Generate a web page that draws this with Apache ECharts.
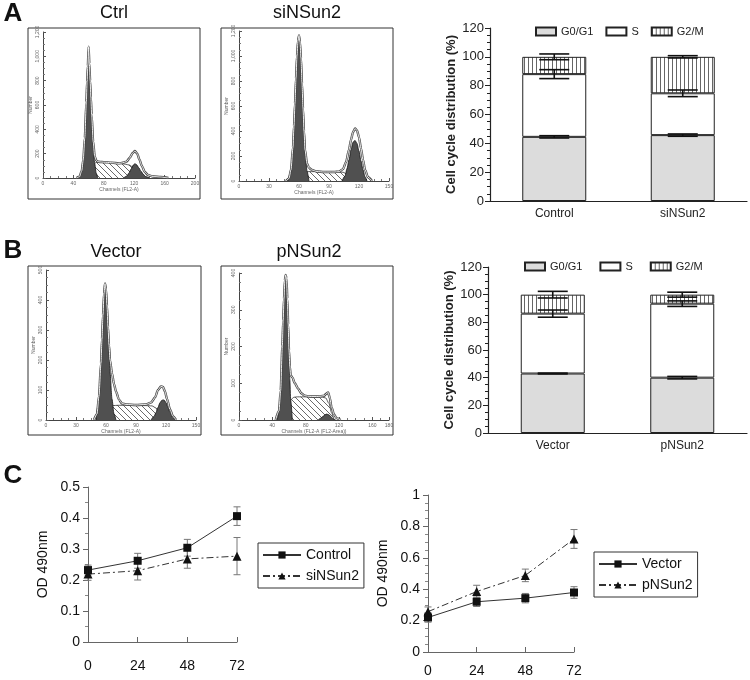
<!DOCTYPE html>
<html><head><meta charset="utf-8">
<script src="https://cdn.jsdelivr.net/npm/echarts@6/dist/echarts.min.js"></script>
<style>html,body{margin:0;padding:0;background:#fff}#c{width:750px;height:680px}</style>
</head><body><div id="c"></div>
<script>
// ---------------- DATA ----------------
// Flow histograms: channel positions and counts per component
const ctrlG1Ch = [47,50,52,54,56,57,58,59,60,61,62,63,64,66,68,70,72];
const ctrlG1N  = [0,30,90,200,450,600,760,900,950,900,780,640,500,280,120,40,0];
const ctrlSCh  = [56,62,66,70,80,90,100,108,114,118,122,126,130];
const ctrlSN   = [0,60,110,128,130,126,120,114,106,90,60,25,0];
const ctrlG2Ch = [106,110,113,116,119,121,123,126,129,132,135,140];
const ctrlG2N  = [0,15,40,75,108,118,110,85,55,30,12,0];
const ctrlEnvCh = [44,48,51,53,55,57,58,59,60,61,62,63,64,66,68,70,72,75,80,90,100,105,110,114,118,121,124,127,130,134,138,145,155,165];
const ctrlEnvN  = [0,10,60,150,330,620,790,920,1080,940,800,660,520,300,180,145,135,132,130,126,120,125,135,165,205,222,200,150,100,50,25,12,8,0];

const siG1Ch = [49,52,54,55,56,57,58,59,60,61,62,63,64,65,66,68,70];
const siG1N  = [0,80,260,420,600,800,980,1110,1150,1100,960,760,560,390,240,80,0];
const siSCh  = [58,62,66,70,80,90,100,104,108,112,116];
const siSN   = [0,50,72,75,75,73,72,70,55,25,0];
const siG2Ch = [103,106,108,110,112,114,116,118,120,122,124,126,128];
const siG2N  = [0,40,100,170,250,310,325,300,240,160,90,35,0];
const siEnvCh = [47,50,52,54,55,56,57,58,59,60,61,62,63,64,65,66,68,70,73,78,85,95,100,104,107,110,112,114,116,118,120,122,124,126,129,133];
const siEnvN  = [0,20,90,270,440,620,820,1000,1120,1165,1110,980,780,580,400,250,140,105,88,76,72,72,75,95,150,250,330,390,420,405,350,260,170,90,30,0];

const vecG1Ch = [50,53,55,56,57,58,59,60,61,62,63,64,66,68,70];
const vecG1N  = [0,70,180,260,340,410,440,425,370,300,230,160,70,20,0];
const vecSCh  = [60,64,67,72,80,90,100,106,110,113,117];
const vecSN   = [0,35,48,49,49,48,48,47,40,20,0];
const vecG2Ch = [105,108,110,112,114,116,118,120,122,124,127,130];
const vecG2N  = [0,12,25,42,58,66,67,58,42,25,8,0];
const vecEnvCh = [48,51,53,55,56,57,58,59,60,61,62,63,64,66,68,70,73,76,80,90,100,105,109,112,115,117,119,121,124,127,130];
const vecEnvN  = [0,20,80,190,270,350,420,455,435,380,310,250,200,155,120,95,68,55,52,50,52,58,75,100,112,110,95,70,35,12,0];

const pnG1Ch = [46,49,51,52,53,54,55,56,57,58,59,60,61,62,64];
const pnG1N  = [0,40,130,190,260,320,370,390,375,320,250,180,110,55,0];
const pnSCh  = [56,59,62,66,70,80,90,100,104,108,111,114];
const pnSN   = [0,30,55,62,63,63,62,62,60,45,20,0];
const pnG2Ch = [95,98,101,103,105,107,109,111,113,116];
const pnG2N  = [0,5,10,14,16,15,12,7,3,0];
const pnEnvCh = [44,48,50,52,53,54,55,56,57,58,59,60,61,62,64,67,71,75,79,85,95,102,105,107,109,111,114,117,122];
const pnEnvN  = [0,25,80,200,270,330,380,395,385,330,260,190,145,122,116,100,85,72,66,64,64,66,72,75,60,35,15,5,0];

// Cell cycle distribution (%)
const phaseNames = ['G0/G1','S','G2/M'];
const catsA = ['Control','siNSun2'];
const g1A = [44.5, 45.7];   const g1ErrA = [0.8, 0.8];
const sA  = [43.5, 29.0];   const sErrA  = [3.1, 2.3];
const g2A = [12.0, 25.3];   const g2ErrA = [2.0, 0.8];
const catsB = ['Vector','pNSun2'];
const g1B = [43.0, 40.0];   const g1ErrB = [0.3, 0.9];
const sB  = [43.3, 53.5];   const sErrB  = [2.6, 2.0];
const g2B = [13.7, 6.5];    const g2ErrB = [2.4, 1.8];

// MTT OD 490nm
const hours = [0, 24, 48, 72];
const ctrlOD = [0.232, 0.262, 0.304, 0.406]; const ctrlErr = [0.016, 0.024, 0.027, 0.03];
const siOD   = [0.219, 0.230, 0.268, 0.277]; const siErr   = [0.02, 0.03, 0.03, 0.06];
const vecOD  = [0.22, 0.32, 0.343, 0.379];   const vecErr  = [0.03, 0.03, 0.03, 0.037];
const pnOD   = [0.257, 0.385, 0.488, 0.72];  const pnErr   = [0.03, 0.04, 0.04, 0.06];

// ---------------- HELPERS ----------------
function pattern(kind){
  const c = document.createElement('canvas');
  const ctx = c.getContext('2d');
  if (kind === 'vert'){
    c.width = 4; c.height = 4;
    ctx.fillStyle = '#fff'; ctx.fillRect(0,0,4,4);
    ctx.fillStyle = '#666'; ctx.fillRect(0,0,1,4);
  } else {
    c.width = 6; c.height = 6;
    ctx.fillStyle = '#fff'; ctx.fillRect(0,0,6,6);
    ctx.strokeStyle = '#444'; ctx.lineWidth = 0.8;
    ctx.beginPath();
    ctx.moveTo(-1,-1); ctx.lineTo(7,7);
    ctx.moveTo(-1,5); ctx.lineTo(1,7);
    ctx.moveTo(5,-1); ctx.lineTo(7,1);
    ctx.stroke();
  }
  return {image: c, repeat: 'repeat'};
}
const vertPat = pattern('vert');
const diagPat = pattern('diag');
const pairs = (xs, ys) => xs.map((x,i)=>[x, ys[i]]);

const FONT = "'Liberation Sans', Arial, sans-serif";

function histSeries(gi, sCh, sN, g1Ch, g1N, g2Ch, g2N, envCh, envN){
  const base = {type:'line', xAxisIndex:gi, yAxisIndex:gi, symbol:'none', smooth:0.25, smoothMonotone:'x', silent:true};
  return [
    Object.assign({}, base, {data:pairs(sCh,sN), z:2, lineStyle:{color:'#333', width:0.8}, areaStyle:{color:diagPat, opacity:1}}),
    Object.assign({}, base, {data:pairs(g1Ch,g1N), z:3, lineStyle:{color:'#111', width:0.8}, areaStyle:{color:'#505050', opacity:1}}),
    Object.assign({}, base, {data:pairs(g2Ch,g2N), z:3, lineStyle:{color:'#111', width:0.8}, areaStyle:{color:'#505050', opacity:1}}),
    Object.assign({}, base, {data:pairs(envCh,envN), z:4, lineStyle:{color:'#444', width:2.4}}),
    Object.assign({}, base, {data:pairs(envCh,envN), z:5, lineStyle:{color:'#fff', width:0.9}})
  ];
}

function errRender(capW, color, lw){
  return function(params, api){
    const x = api.value(0), y = api.value(1), e = api.value(2);
    const p0 = api.coord([x, y - e]), p1 = api.coord([x, y + e]);
    const cx = p0[0];
    const st = {stroke:color, lineWidth:lw};
    return {type:'group', children:[
      {type:'line', shape:{x1:cx, y1:p0[1], x2:cx, y2:p1[1]}, style:st},
      {type:'line', shape:{x1:cx-capW/2, y1:p0[1], x2:cx+capW/2, y2:p0[1]}, style:st},
      {type:'line', shape:{x1:cx-capW/2, y1:p1[1], x2:cx+capW/2, y2:p1[1]}, style:st}
    ]};
  };
}

// ---------------- LAYOUT ----------------
const grids = [
  {left:43,  top:32,  width:152, height:146},
  {left:239, top:31,  width:150, height:150},
  {left:46,  top:270, width:150, height:150},
  {left:239, top:273, width:150, height:147},
  {left:490, top:28,  width:257, height:173},
  {left:488, top:267, width:259, height:166},
  {left:88,  top:487, width:149, height:155},
  {left:428, top:495, width:146, height:157}
].map(g => Object.assign({outerBoundsMode:'none', containLabel:false}, g));

function histX(gi, max, interval, name){
  return {type:'value', gridIndex:gi, min:0, max:max, interval:interval, name:name,
    nameLocation:'middle', nameGap:8, nameTextStyle:{fontSize:5, color:'#666', fontFamily:FONT},
    axisLine:{lineStyle:{color:'#444', width:1}}, axisTick:{inside:true, length:3, lineStyle:{color:'#555'}},
    minorTick:{show:true, splitNumber:4, length:2, lineStyle:{color:'#777'}},
    axisLabel:{fontSize:5, color:'#666', margin:3, fontFamily:FONT}, splitLine:{show:false}};
}
function histY(gi, max, interval){
  return {type:'value', gridIndex:gi, min:0, max:max, interval:interval, name:'Number',
    nameLocation:'middle', nameGap:10, nameRotate:90, nameTextStyle:{fontSize:5, color:'#666', fontFamily:FONT},
    axisLine:{show:true, lineStyle:{color:'#444', width:1}}, axisTick:{show:true, inside:true, length:3, lineStyle:{color:'#555'}},
    minorTick:{show:true, splitNumber:4, length:2, lineStyle:{color:'#777'}},
    axisLabel:{fontSize:5, color:'#666', rotate:90, margin:3, fontFamily:FONT}, splitLine:{show:false}};
}
function barX(gi, cats){
  return {type:'category', gridIndex:gi, data:cats,
    axisLine:{lineStyle:{color:'#222', width:1.2}}, axisTick:{alignWithLabel:true, length:4, lineStyle:{color:'#222'}},
    axisLabel:{fontSize:12, color:'#222', margin:7, fontFamily:FONT}};
}
function barY(gi){
  return {type:'value', gridIndex:gi, min:0, max:120, interval:20, name:'Cell cycle distribution (%)',
    nameLocation:'middle', nameGap:31, nameRotate:90,
    nameTextStyle:{fontSize:13, fontWeight:'bold', color:'#222', fontFamily:FONT},
    axisLine:{show:true, lineStyle:{color:'#222', width:1.2}}, axisTick:{show:true, length:5, lineStyle:{color:'#222'}},
    minorTick:{show:true, splitNumber:4, length:3, lineStyle:{color:'#222'}},
    axisLabel:{fontSize:13, color:'#222', margin:6, fontFamily:FONT}, splitLine:{show:false}};
}
function lineX(gi, margin){
  return {type:'value', gridIndex:gi, min:0, max:72, interval:24,
    axisLine:{lineStyle:{color:'#666', width:1}}, axisTick:{inside:true, length:5, lineStyle:{color:'#666'}},
    axisLabel:{fontSize:14, color:'#111', margin:margin, fontFamily:FONT}, splitLine:{show:false}};
}
function lineY(gi, max, interval, minorSplit, fmt){
  return {type:'value', gridIndex:gi, min:0, max:max, interval:interval, name:'OD 490nm',
    nameLocation:'middle', nameGap:38, nameRotate:90,
    nameTextStyle:{fontSize:14, color:'#111', fontFamily:FONT},
    axisLine:{show:true, lineStyle:{color:'#666', width:1}}, axisTick:{show:true, length:5, lineStyle:{color:'#666'}},
    minorTick:{show:true, splitNumber:minorSplit, length:3, lineStyle:{color:'#888'}},
    axisLabel:{fontSize:14, color:'#111', margin:8, fontFamily:FONT, formatter:fmt}, splitLine:{show:false}};
}

const xAxes = [
  histX(0, 200, 40, 'Channels (FL2-A)'),
  histX(1, 150, 30, 'Channels (FL2-A)'),
  histX(2, 150, 30, 'Channels (FL2-A)'),
  histX(3, 180, 40, 'Channels (FL2-A (FL2-Area))'),
  barX(4, catsA), barX(5, catsB),
  lineX(6, 17), lineX(7, 12)
];
const yAxes = [
  histY(0, 1200, 200), histY(1, 1200, 200), histY(2, 500, 100), histY(3, 400, 100),
  barY(4), barY(5),
  lineY(6, 0.5, 0.1, 2, v => v === 0 ? '0' : String(v)),
  lineY(7, 1, 0.2, 4, v => String(v))
];

// ---------------- SERIES ----------------
const series = [];
series.push(...histSeries(0, ctrlSCh, ctrlSN, ctrlG1Ch, ctrlG1N, ctrlG2Ch, ctrlG2N, ctrlEnvCh, ctrlEnvN));
series.push(...histSeries(1, siSCh, siSN, siG1Ch, siG1N, siG2Ch, siG2N, siEnvCh, siEnvN));
series.push(...histSeries(2, vecSCh, vecSN, vecG1Ch, vecG1N, vecG2Ch, vecG2N, vecEnvCh, vecEnvN));
series.push(...histSeries(3, pnSCh, pnSN, pnG1Ch, pnG1N, pnG2Ch, pnG2N, pnEnvCh, pnEnvN));

const phaseStyles = [
  {color:'#dcdcdc', borderColor:'#222', borderWidth:1},
  {color:'#ffffff', borderColor:'#222', borderWidth:1},
  {color:vertPat,   borderColor:'#222', borderWidth:1}
];
function barBlock(gi, stack, g1, s, g2, e1, e2, e3){
  const vals = [g1, s, g2];
  vals.forEach((v, k) => series.push({type:'bar', name:phaseNames[k], xAxisIndex:gi, yAxisIndex:gi,
    stack:stack, data:v, barWidth:64, itemStyle:phaseStyles[k], z:2}));
  const errData = [];
  g1.forEach((v,i) => {
    errData.push([i, g1[i], e1[i]]);
    errData.push([i, g1[i] + s[i], e2[i]]);
    errData.push([i, g1[i] + s[i] + g2[i], e3[i]]);
  });
  series.push({type:'custom', xAxisIndex:gi, yAxisIndex:gi, data:errData, z:5,
    renderItem:errRender(30, '#111', 1.6), silent:true});
}
barBlock(4, 'A', g1A, sA, g2A, g1ErrA, sErrA, g2ErrA);
barBlock(5, 'B', g1B, sB, g2B, g1ErrB, sErrB, g2ErrB);

const dashDot = [7,3,2,3];
function odBlock(gi, solidName, solid, solidErr, dashName, dash, dashErr){
  series.push({type:'custom', xAxisIndex:gi, yAxisIndex:gi, data:pairs(hours, solid).map((p,i)=>[p[0],p[1],solidErr[i]]),
    renderItem:errRender(7, '#777', 1), z:2, silent:true});
  series.push({type:'custom', xAxisIndex:gi, yAxisIndex:gi, data:pairs(hours, dash).map((p,i)=>[p[0],p[1],dashErr[i]]),
    renderItem:errRender(7, '#777', 1), z:2, silent:true});
  series.push({type:'line', name:solidName, xAxisIndex:gi, yAxisIndex:gi, data:pairs(hours, solid),
    symbol:'rect', symbolSize:8, itemStyle:{color:'#111'}, lineStyle:{color:'#333', width:1}, z:4});
  series.push({type:'line', name:dashName, xAxisIndex:gi, yAxisIndex:gi, data:pairs(hours, dash),
    symbol:'triangle', symbolSize:9, itemStyle:{color:'#111'}, lineStyle:{color:'#333', width:1, type:dashDot}, z:4});
}
odBlock(6, 'Control', ctrlOD, ctrlErr, 'siNSun2', siOD, siErr);
odBlock(7, 'Vector', vecOD, vecErr, 'pNSun2', pnOD, pnErr);

// ---------------- LEGENDS ----------------
const legends = [
  {data:phaseNames, left:530, top:21, itemWidth:20, itemHeight:8, itemGap:12, icon:'rect',
    textStyle:{fontSize:11, color:'#222', fontFamily:FONT}, selectedMode:false},
  {data:phaseNames, left:519, top:256, itemWidth:20, itemHeight:8, itemGap:17, icon:'rect',
    textStyle:{fontSize:11, color:'#222', fontFamily:FONT}, selectedMode:false},
  {data:['Control','siNSun2'], left:258, top:543, orient:'vertical', itemWidth:38, itemHeight:9, itemGap:7,
    padding:[5,5,5,4], borderColor:'#333', borderWidth:1, backgroundColor:'#fff',
    textStyle:{fontSize:14, color:'#111', fontFamily:FONT}, selectedMode:false},
  {data:['Vector','pNSun2'], left:594, top:552, orient:'vertical', itemWidth:38, itemHeight:9, itemGap:7,
    padding:[5,5,5,4], borderColor:'#333', borderWidth:1, backgroundColor:'#fff',
    textStyle:{fontSize:14, color:'#111', fontFamily:FONT}, selectedMode:false}
];

// ---------------- TEXT / FRAMES ----------------
function txt(x, y, s, size, weight){
  return {type:'text', x:x, y:y, silent:true,
    style:{text:s, fill:'#111', font:(weight||'normal') + ' ' + size + 'px ' + FONT, textAlign:'center', textVerticalAlign:'middle'}};
}
function frame(x1, y1, x2, y2){
  return {type:'rect', silent:true, z:-1, shape:{x:x1, y:y1, width:x2-x1, height:y2-y1},
    style:{fill:'none', stroke:'#333', lineWidth:1}};
}
const graphics = [
  txt(13, 14, 'A', 26, 'bold'), txt(13, 251, 'B', 26, 'bold'), txt(13, 476, 'C', 26, 'bold'),
  txt(114, 13, 'Ctrl', 18), txt(307, 13, 'siNSun2', 18),
  txt(116, 252, 'Vector', 18), txt(309, 252, 'pNSun2', 18),
  frame(28, 28, 200, 199), frame(221, 28, 393, 199),
  frame(28, 266, 201, 435), frame(221, 266, 393, 435)
];

const chart = echarts.init(document.getElementById('c'), null, {renderer:'canvas'});
chart.setOption({
  animation:false,
  backgroundColor:'#fff',
  grid:grids, xAxis:xAxes, yAxis:yAxes, series:series, legend:legends, graphic:graphics
});
</script></body></html>
